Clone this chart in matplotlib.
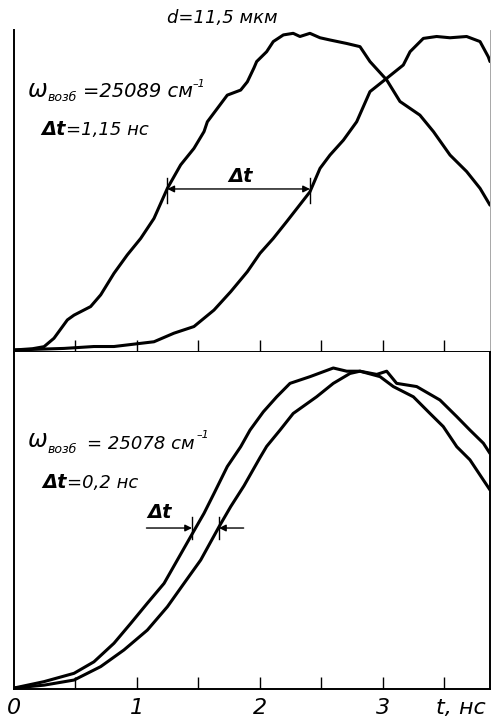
import numpy as np
import matplotlib
matplotlib.use("Agg")
import matplotlib.pyplot as plt

plt.rcParams['font.family'] = ['DejaVu Sans']
plt.rcParams['font.style'] = 'italic'

# upper panel, d = 11.5 mkm (two pulses, delay 1.15 ns)
t_up1 = [0.0, 0.15, 0.244, 0.325, 0.434, 0.488, 0.623, 0.705, 0.813, 0.921, 1.03, 1.138, 1.247,
         1.355, 1.463, 1.545, 1.572, 1.653, 1.734, 1.843, 1.897, 1.951, 1.973, 2.054, 2.108,
         2.19, 2.27, 2.325, 2.406, 2.488, 2.569, 2.705, 2.813, 2.894, 3.03, 3.138, 3.30, 3.41,
         3.545, 3.68, 3.789, 3.87]
v_up1 = [0.0, 0.004, 0.0105, 0.037, 0.095, 0.11, 0.137, 0.174, 0.242, 0.30, 0.352, 0.415, 0.51,
         0.584, 0.636, 0.689, 0.72, 0.762, 0.804, 0.82, 0.846, 0.89, 0.91, 0.941, 0.973,
         0.994, 0.999, 0.989, 0.999, 0.985, 0.978, 0.967, 0.957, 0.91, 0.852, 0.784, 0.741, 0.689,
         0.615, 0.563, 0.51, 0.457]
t_up2 = [0.0, 0.407, 0.65, 0.813, 1.138, 1.30, 1.463, 1.626, 1.762, 1.897, 2.0, 2.108, 2.217,
         2.406, 2.488, 2.569, 2.678, 2.786, 2.894, 3.03, 3.165, 3.22, 3.328, 3.436, 3.545, 3.68,
         3.789, 3.856, 3.87]
v_up2 = [0.0, 0.005, 0.011, 0.011, 0.026, 0.053, 0.074, 0.126, 0.184, 0.247, 0.305, 0.352, 0.405,
         0.499, 0.573, 0.615, 0.662, 0.72, 0.815, 0.857, 0.899, 0.941, 0.983, 0.989, 0.985, 0.989,
         0.973, 0.925, 0.91]

# lower panel (delay 0.2 ns)
t_lo1 = [0.0, 0.244, 0.488, 0.65, 0.813, 0.949, 1.084, 1.22, 1.328, 1.436, 1.545, 1.626, 1.734,
         1.843, 1.919, 2.027, 2.136, 2.244, 2.407, 2.596, 2.705, 2.813, 2.976, 3.084, 3.247,
         3.382, 3.49, 3.60, 3.707, 3.816, 3.87]
v_lo1 = [0.0, 0.02, 0.046, 0.082, 0.14, 0.202, 0.265, 0.327, 0.40, 0.473, 0.546, 0.608, 0.692,
         0.754, 0.806, 0.863, 0.91, 0.952, 0.973, 1.0, 0.99, 0.99, 0.973, 0.942, 0.91,
         0.858, 0.817, 0.754, 0.713, 0.65, 0.619]
t_lo2 = [0.0, 0.244, 0.488, 0.705, 0.894, 1.084, 1.247, 1.382, 1.518, 1.667, 1.762, 1.87,
         2.0, 2.054, 2.163, 2.27, 2.46, 2.596, 2.732, 2.813, 2.949, 3.03, 3.111, 3.274, 3.463, 3.60,
         3.707, 3.816, 3.87]
v_lo2 = [0.0, 0.009, 0.025, 0.067, 0.119, 0.181, 0.254, 0.327, 0.40, 0.504, 0.567, 0.632,
         0.72, 0.755, 0.806, 0.858, 0.91, 0.952, 0.983, 0.99, 0.98, 0.99, 0.952, 0.942, 0.90, 0.848,
         0.806, 0.765, 0.733]

dt_up = (1.247, 2.406)   # arrow ends, upper panel
dt_lo = (1.447, 1.667)   # arrow ends, lower panel
xticks = [0.5, 1.0, 1.5, 2.0, 2.5, 3.0, 3.5]
xlabels = ['0', '1', '2', '3']

W, H = 491, 718
fig = plt.figure(figsize=(W / 100, H / 100), dpi=100)

def px(x0, y0, x1, y1):
    return [x0 / W, 1 - y1 / H, (x1 - x0) / W, (y1 - y0) / H]

ax1 = fig.add_axes(px(14, 30, 490, 352))
ax2 = fig.add_axes(px(14, 352, 490, 689))
lw = 2.2
for ax, t, v in ((ax1, t_up1, v_up1), (ax1, t_up2, v_up2), (ax2, t_lo1, v_lo1), (ax2, t_lo2, v_lo2)):
    ax.plot(t, v, color='black', lw=lw, solid_joinstyle='round', solid_capstyle='round')

ax1.set_ylim(-0.0063, 1.0095)
ax2.set_ylim(-0.003, 1.05)
for ax in (ax1, ax2):
    ax.set_xlim(0, 3.87)
    ax.set_yticks([])
    ax.set_xticks(xticks)
    ax.tick_params(axis='x', direction='in', length=9, width=1.0, labelbottom=False)
    ax.spines['top'].set_visible(False)
    for s in ('left', 'bottom', 'right'):
        ax.spines[s].set_linewidth(1.4)
ax1.spines['right'].set_linewidth(0.6)
ax1.spines['right'].set_color('0.6')

# tick labels of the lower panel
for i, lab in enumerate(xlabels):
    ax2.text(i, -0.03, lab, fontsize=16, ha='center', va='top')
ax2.text(3.63, -0.03, 't, нс', fontsize=16, ha='center', va='top')

# Δt markers, upper panel
y = 0.508
for t in dt_up:
    ax1.plot([t, t], [y - 0.045, y + 0.035], color='black', lw=1.0)
ax1.annotate('', xy=(dt_up[0], y), xytext=(dt_up[1], y),
             arrowprops=dict(arrowstyle='<|-|>', color='black', lw=1.0, mutation_scale=10,
                             shrinkA=0, shrinkB=0))
# Δt markers, lower panel
y = 0.5
for t in dt_lo:
    ax2.plot([t, t], [y - 0.035, y + 0.035], color='black', lw=1.0)
ax2.annotate('', xy=(dt_lo[0], y), xytext=(dt_lo[0] - 0.37, y),
             arrowprops=dict(arrowstyle='-|>', color='black', lw=1.0, mutation_scale=10,
                             shrinkA=0, shrinkB=0))
ax2.annotate('', xy=(dt_lo[1], y), xytext=(dt_lo[1] + 0.2, y),
             arrowprops=dict(arrowstyle='-|>', color='black', lw=1.0, mutation_scale=10,
                             shrinkA=0, shrinkB=0))

def ftext(x, y, s, **kw):
    fig.text(x / W, 1 - y / H, s, va='baseline', **kw)

ftext(167, 23, 'd=11,5 мкм', fontsize=13)
# upper labels
ftext(28, 97, 'ω', fontsize=17)
ftext(48, 101, 'возб', fontsize=9)
ftext(83, 97, '=25089 см', fontsize=14)
ftext(193, 87, '–1', fontsize=8)
ftext(41, 135, 'Δt', fontsize=14, weight='bold')
ftext(66, 135, '=1,15 нс', fontsize=13)
ftext(228, 182, 'Δt', fontsize=14, weight='bold')
# lower labels
ftext(28, 447, 'ω', fontsize=17)
ftext(48, 453, 'возб', fontsize=9)
ftext(87, 449, '= 25078 см', fontsize=13)
ftext(197, 438, '–1', fontsize=8)
ftext(42, 488, 'Δt', fontsize=14, weight='bold')
ftext(67, 488, '=0,2 нс', fontsize=13)
ftext(147, 518, 'Δt', fontsize=14, weight='bold')

fig.savefig('out.png', dpi=100)
